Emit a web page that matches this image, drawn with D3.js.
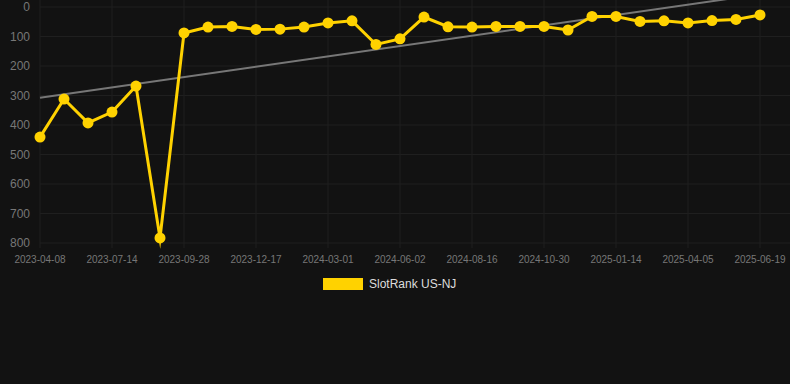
<!DOCTYPE html>
<html>
<head>
<meta charset="utf-8">
<script src="https://cdn.jsdelivr.net/npm/d3@7"></script>
<style>
  body { margin: 0; background: #121212; }
  svg { display: block; font-family: "Liberation Sans", Arial, sans-serif; }
</style>
</head>
<body>
<div id="chart"></div>
<script>
// categories (one per point), labels shown every 3rd
const dates = [
  "2023-04-08", "", "", "2023-07-14", "", "", "2023-09-28", "", "", "2023-12-17",
  "", "", "2024-03-01", "", "", "2024-06-02", "", "", "2024-08-16", "",
  "", "2024-10-30", "", "", "2025-01-14", "", "", "2025-04-05", "", "",
  "2025-06-19"
];
const ranks = [
  441, 312, 393, 356, 268, 783, 88, 68, 66, 76,
  75, 68, 54, 47, 127, 108, 34, 67, 68, 66,
  66, 66, 78, 32, 32, 49, 47, 54, 46, 42,
  27
];
const trend = [308, -43];
const yTicks = [0, 100, 200, 300, 400, 500, 600, 700, 800];
const seriesName = "SlotRank US-NJ";

const width = 790, height = 384;
const svg = d3.select("#chart").append("svg")
  .attr("width", width)
  .attr("height", height);

const idx = dates.map((d, i) => i);
const x = d3.scalePoint().domain(idx).range([40, 760]);
const y = d3.scaleLinear().domain([0, 800]).range([7, 243]);

// grid
svg.append("g")
  .selectAll("line")
  .data(yTicks)
  .join("line")
  .attr("x1", 40).attr("x2", 790)
  .attr("y1", d => y(d)).attr("y2", d => y(d))
  .attr("stroke", "#1f1f1f");

const labeled = idx.filter(i => dates[i] !== "");
svg.append("g")
  .selectAll("line")
  .data(labeled)
  .join("line")
  .attr("x1", d => x(d)).attr("x2", d => x(d))
  .attr("y1", 0).attr("y2", 248)
  .attr("stroke", "#1f1f1f");

// y labels
svg.append("g")
  .selectAll("text")
  .data(yTicks)
  .join("text")
  .attr("x", 30)
  .attr("y", d => y(d))
  .attr("dy", "0.35em")
  .attr("text-anchor", "end")
  .attr("fill", "#777")
  .attr("font-size", 12)
  .text(d => d);

// x labels
svg.append("g")
  .selectAll("text")
  .data(labeled)
  .join("text")
  .attr("x", d => x(d))
  .attr("y", 263)
  .attr("text-anchor", "middle")
  .attr("fill", "#777")
  .attr("font-size", 10)
  .text(d => dates[d]);

// trend line
svg.append("line")
  .attr("x1", x(0)).attr("y1", y(trend[0]))
  .attr("x2", x(idx.length - 1)).attr("y2", y(trend[1]))
  .attr("stroke", "#777")
  .attr("stroke-width", 2);

// series
const line = d3.line()
  .x((d, i) => x(i))
  .y(d => y(d));

svg.append("path")
  .datum(ranks)
  .attr("d", line)
  .attr("fill", "none")
  .attr("stroke", "#ffd200")
  .attr("stroke-width", 3)
  .attr("stroke-linejoin", "miter")
  .attr("stroke-miterlimit", 10);

svg.append("g")
  .selectAll("circle")
  .data(ranks)
  .join("circle")
  .attr("cx", (d, i) => x(i))
  .attr("cy", d => y(d))
  .attr("r", 5.5)
  .attr("fill", "#ffd200");

// legend
svg.append("rect")
  .attr("x", 323).attr("y", 278)
  .attr("width", 40).attr("height", 12)
  .attr("fill", "#ffd200");
svg.append("text")
  .attr("x", 369).attr("y", 284)
  .attr("dy", "0.35em")
  .attr("fill", "#ddd")
  .attr("font-size", 12)
  .text(seriesName);
</script>
</body>
</html>
